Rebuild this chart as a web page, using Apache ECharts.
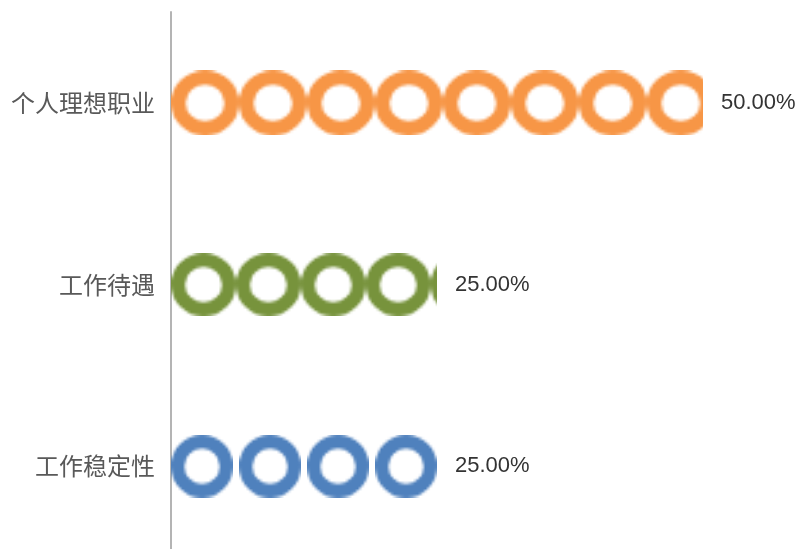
<!DOCTYPE html>
<html>
<head>
<meta charset="utf-8">
<script src="https://cdn.jsdelivr.net/npm/echarts@6/dist/echarts.min.js"></script>
<style>html,body{margin:0;padding:0;background:#fff;}#main{width:800px;height:549px;}</style>
</head>
<body>
<div id="main"></div>
<script>
// Data
var categories = ['工作稳定性', '工作待遇', '个人理想职业'];
var values = [25, 25, 50];
var colors = ['#4F81BD', '#77933C', '#F79646'];
var xMax = 50;

function ringImage(color) {
  var s = 24;
  var c = document.createElement('canvas');
  c.width = s; c.height = s;
  var ctx = c.getContext('2d');
  ctx.fillStyle = color;
  ctx.beginPath();
  ctx.arc(s / 2, s / 2, s / 2, 0, Math.PI * 2, false);
  ctx.arc(s / 2, s / 2, s / 2 * 0.57, 0, Math.PI * 2, true);
  ctx.closePath();
  ctx.fill();
  return 'image://' + c.toDataURL('image/png');
}

// symbol styling per category
var symbolSizes = [[62, 63], [65, 63], [68, 65]];
var symbolMargins = [3.5, 0, 0];
var bounding = [25, 30.5, 51.1];

var series = values.map(function (v, i) {
  var d = categories.map(function (c, j) { return j === i ? v : '-'; });
  return {
    type: 'pictorialBar',
    barGap: '-100%',
    symbol: ringImage(colors[i]),
    symbolSize: symbolSizes[i],
    symbolMargin: symbolMargins[i],
    symbolRepeat: true,
    symbolClip: true,
    symbolPosition: 'start',
    symbolBoundingData: bounding[i],
    data: d,
    z: 2
  };
});

// transparent bar carrying the value labels at the value end
series.push({
  type: 'bar',
  data: values,
  barWidth: 40,
  silent: true,
  itemStyle: {color: 'rgba(0,0,0,0)'},
  z: 1,
  label: {
    show: true,
    position: 'right',
    distance: 18,
    fontSize: 22,
    color: '#333',
    fontFamily: '"Liberation Sans", Arial, sans-serif',
    formatter: function (p) { return (+p.value).toFixed(2) + '%'; }
  }
});

var chart = echarts.init(document.getElementById('main'), null, {renderer: 'canvas'});
chart.setOption({
  animation: false,
  backgroundColor: '#fff',
  grid: {left: 171, top: 12, width: 532, height: 545, containLabel: false, outerBoundsMode: 'none'},
  xAxis: {type: 'value', min: 0, max: xMax, show: false},
  yAxis: {
    type: 'category',
    data: categories,
    axisLine: {show: true, lineStyle: {color: '#b4b4b4', width: 2}},
    axisTick: {show: false},
    splitLine: {show: false},
    axisLabel: {
      fontSize: 24,
      color: '#595959',
      margin: 16,
      fontFamily: '"Noto Sans CJK SC", sans-serif'
    }
  },
  series: series
});
</script>
</body>
</html>
